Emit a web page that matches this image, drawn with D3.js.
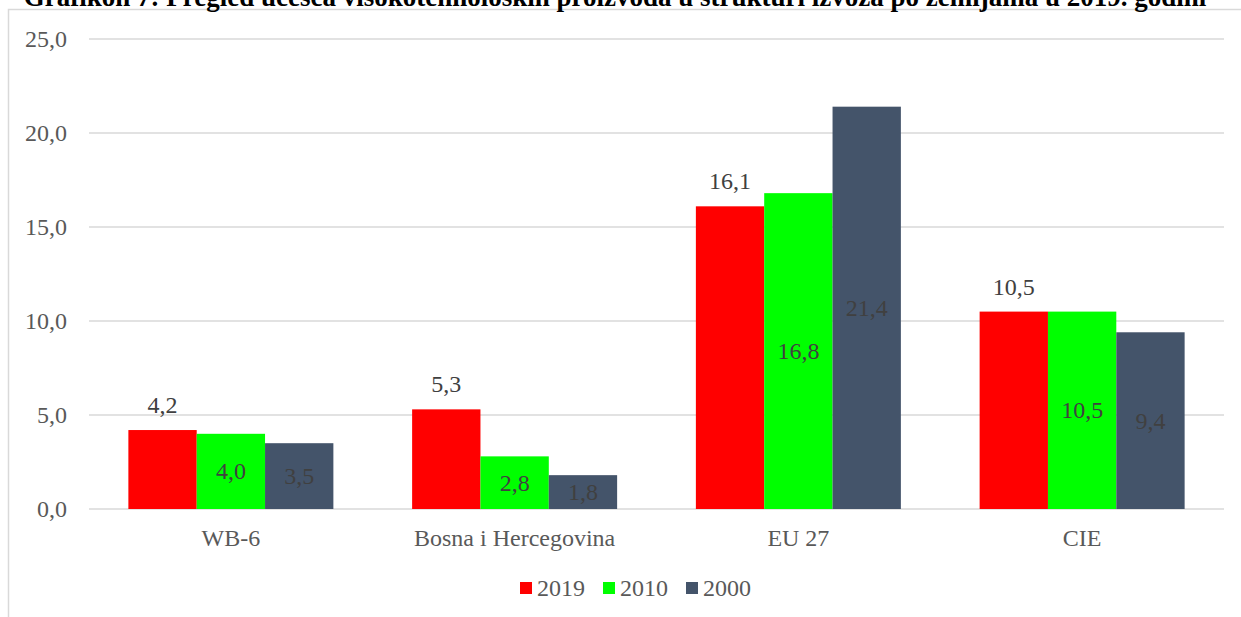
<!DOCTYPE html>
<html lang="bs">
<head>
    <meta charset="UTF-8">
    <script src="https://cdn.jsdelivr.net/npm/d3@7"></script>
    <title>Grafikon 7</title>
    <style>
        body { margin: 0; background: #fff; }
        text { font-family: "Liberation Serif", "Times New Roman", serif; }
    </style>
</head>
<body>
</body>
<script>

    // data
    let categories = ["WB-6", "Bosna i Hercegovina", "EU 27", "CIE"];
    let years = ["2019", "2010", "2000"];
    let v2019 = [4.2, 5.3, 16.1, 10.5];
    let v2010 = [4.0, 2.8, 16.8, 10.5];
    let v2000 = [3.5, 1.8, 21.4, 9.4];
    let yTicks = [0, 5, 10, 15, 20, 25];

    let width = 1241,
        height = 617,
        colors = ["#ff0000", "#00ff00", "#44546a"],
        fmt = v => d3.format(".1f")(v).replace(".", ",");

    let series = [v2019, v2010, v2000];

    let x = d3.scaleBand()
        .domain(categories)
        .range([89, 1224]);

    let xi = d3.scaleBand()
        .domain(years)
        .range([0, 205]);

    let y = d3.scaleLinear()
        .domain([0, 25])
        .range([509, 39]);

    let svg = d3.select("body")
        .append("svg")
        .attr("width", width)
        .attr("height", height);

    // chart frame (runs off the right and bottom of the picture)
    svg.append("rect")
        .attr("x", 8.5)
        .attr("y", 9.5)
        .attr("width", 1300)
        .attr("height", 700)
        .attr("fill", "#fff")
        .attr("stroke", "#d9d9d9")
        .attr("stroke-width", 1.5);

    // title, cut off at the top as in the source
    svg.append("text")
        .attr("x", 615)
        .attr("y", 6)
        .attr("text-anchor", "middle")
        .attr("font-weight", "bold")
        .attr("font-size", 27)
        .attr("fill", "#000")
        .text("Grafikon 7: Pregled učešća visokotehnoloških proizvoda u strukturi izvoza po zemljama u 2019. godini");

    // gridlines
    svg.append("g")
        .selectAll("line")
        .data(yTicks)
        .enter()
        .append("line")
        .attr("x1", 89)
        .attr("x2", 1224)
        .attr("y1", d => y(d))
        .attr("y2", d => y(d))
        .attr("stroke", "#d9d9d9")
        .attr("stroke-width", 1.3);

    // y axis labels
    svg.append("g")
        .selectAll("text")
        .data(yTicks)
        .enter()
        .append("text")
        .attr("x", 67)
        .attr("y", d => y(d) + 8)
        .attr("text-anchor", "end")
        .attr("font-size", 24)
        .attr("fill", "#595959")
        .text(d => fmt(d));

    // bars
    let groups = svg.append("g")
        .selectAll("g")
        .data(series)
        .enter()
        .append("g")
        .attr("fill", (d, i) => colors[i]);

    groups.selectAll("rect")
        .data((d, i) => d.map((v, j) => ({ v: v, cat: categories[j], year: years[i] })))
        .enter()
        .append("rect")
        .attr("x", d => x(d.cat) + (x.bandwidth() - 205) / 2 + xi(d.year))
        .attr("y", d => y(d.v))
        .attr("width", xi.bandwidth())
        .attr("height", d => y(0) - y(d.v));

    // data labels: 2019 above the bar, the others centred inside
    groups.selectAll("text")
        .data((d, i) => d.map((v, j) => ({ v: v, cat: categories[j], year: years[i], s: i })))
        .enter()
        .append("text")
        .attr("x", d => x(d.cat) + (x.bandwidth() - 205) / 2 + xi(d.year) + xi.bandwidth() / 2)
        .attr("y", d => d.s === 0 ? y(d.v) - 17 : (y(d.v) + y(0)) / 2 + 8)
        .attr("text-anchor", "middle")
        .attr("font-size", 24)
        .attr("fill", "#404040")
        .text(d => fmt(d.v));

    // category labels
    svg.append("g")
        .selectAll("text")
        .data(categories)
        .enter()
        .append("text")
        .attr("x", d => x(d) + x.bandwidth() / 2)
        .attr("y", 546)
        .attr("text-anchor", "middle")
        .attr("font-size", 24)
        .attr("fill", "#595959")
        .text(d => d);

    // legend
    let legendX = [520, 603, 686];
    let legend = svg.append("g")
        .selectAll("g")
        .data(years)
        .enter()
        .append("g")
        .attr("transform", (d, i) => "translate(" + legendX[i] + ",582)");

    legend.append("rect")
        .attr("width", 12)
        .attr("height", 12)
        .attr("fill", (d, i) => colors[i]);

    legend.append("text")
        .attr("x", 17)
        .attr("y", 14)
        .attr("font-size", 24)
        .attr("fill", "#595959")
        .text(d => d);

</script>
</html>
